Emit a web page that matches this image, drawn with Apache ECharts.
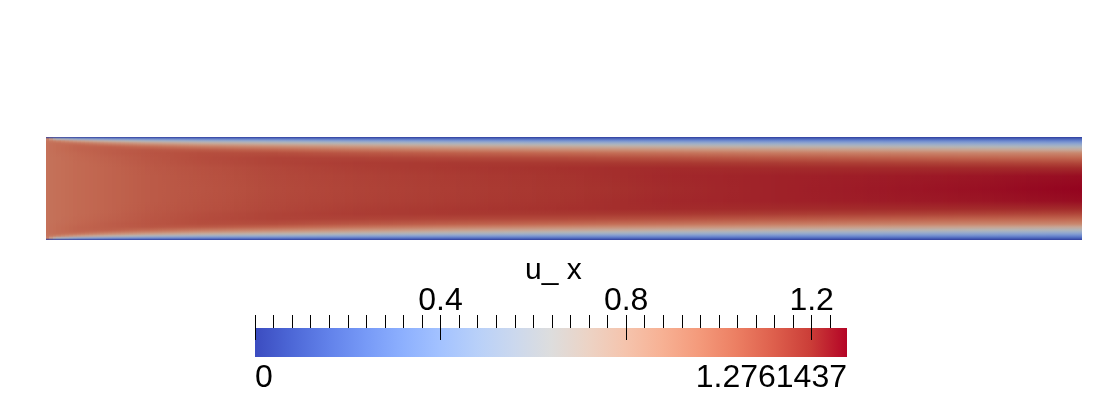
<!DOCTYPE html>
<html>
<head>
<meta charset="utf-8">
<script src="https://cdn.jsdelivr.net/npm/echarts@6/dist/echarts.min.js"></script>
<style>
  html, body { margin: 0; padding: 0; background: #fff; }
  #main { width: 1107px; height: 408px; }
</style>
</head>
<body>
<div id="main"></div>
<script>
// u_x field. stations along the channel (0 = inlet, 1 = outlet)
const xNodes = [0, 0.01, 0.03, 0.06, 0.10, 0.15, 0.22, 0.30, 0.40, 0.50, 0.60, 0.70, 0.80, 0.90, 1.00];
// distance from the wall, as a fraction of the channel height (0 = wall, 0.5 = centre line)
const wallDist = [0, 0.02, 0.04, 0.06, 0.08, 0.10, 0.13, 0.16, 0.20, 0.25, 0.30, 0.38, 0.50];
// u_x at each station, wall -> centre (flow is symmetric about the centre line)
const uHalf = [
  [0, 1.00, 1.00, 1.00, 1.00, 1.00, 1.00, 1.00, 1.00, 1.00, 1.00, 1.00, 1.00],
  [0, 0.62, 0.94, 1.01, 1.02, 1.02, 1.02, 1.015, 1.01, 1.01, 1.01, 1.01, 1.01],
  [0, 0.46, 0.82, 0.98, 1.04, 1.05, 1.05, 1.04, 1.035, 1.03, 1.03, 1.03, 1.03],
  [0, 0.37, 0.69, 0.89, 1.00, 1.06, 1.07, 1.07, 1.06, 1.055, 1.05, 1.05, 1.05],
  [0, 0.31, 0.59, 0.80, 0.94, 1.03, 1.09, 1.10, 1.095, 1.09, 1.085, 1.08, 1.08],
  [0, 0.27, 0.52, 0.72, 0.87, 0.98, 1.08, 1.12, 1.125, 1.12, 1.11, 1.105, 1.10],
  [0, 0.24, 0.47, 0.66, 0.81, 0.93, 1.05, 1.12, 1.15, 1.15, 1.14, 1.135, 1.13],
  [0, 0.21, 0.42, 0.60, 0.75, 0.87, 1.00, 1.09, 1.15, 1.17, 1.165, 1.155, 1.15],
  [0, 0.19, 0.38, 0.55, 0.69, 0.81, 0.95, 1.06, 1.14, 1.18, 1.185, 1.175, 1.17],
  [0, 0.18, 0.35, 0.51, 0.65, 0.77, 0.91, 1.03, 1.13, 1.18, 1.20, 1.195, 1.19],
  [0, 0.17, 0.33, 0.48, 0.61, 0.73, 0.88, 1.00, 1.11, 1.18, 1.21, 1.215, 1.21],
  [0, 0.16, 0.31, 0.45, 0.58, 0.70, 0.85, 0.97, 1.09, 1.17, 1.21, 1.225, 1.225],
  [0, 0.15, 0.30, 0.43, 0.55, 0.67, 0.82, 0.95, 1.07, 1.16, 1.21, 1.235, 1.24],
  [0, 0.14, 0.29, 0.41, 0.53, 0.64, 0.79, 0.93, 1.05, 1.15, 1.21, 1.245, 1.255],
  [0, 0.14, 0.27, 0.39, 0.50, 0.61, 0.76, 0.92, 1.04, 1.14, 1.21, 1.26, 1.2761437]
];

// colour bar
const uRange = [0, 1.2761437];
const barTicks = [0, 0.04, 0.08, 0.12, 0.16, 0.2, 0.24, 0.28, 0.32, 0.36, 0.4, 0.44, 0.48,
  0.52, 0.56, 0.6, 0.64, 0.68, 0.72, 0.76, 0.8, 0.84, 0.88, 0.92, 0.96, 1.0, 1.04, 1.08,
  1.12, 1.16, 1.2, 1.24];
const barMajorTicks = [0, 0.4, 0.8, 1.2];
const barTopLabels = [0.4, 0.8, 1.2];
const barEndLabels = ['0', '1.2761437'];
const barTitle = 'u_ x';

// cool to warm
const cmap = ['#3b4cc0', '#4d68d7', '#6282ea', '#779af7', '#8db0fe', '#a3c2ff', '#b8d0f9',
  '#cbd8ee', '#dddddd', '#ecd3c5', '#f5c4ad', '#f7b194', '#f49a7b', '#ec7f63', '#de604d',
  '#cb3e38', '#b40426'];
const shade = 0.82; // the rendered field is a bit darker than the bar
const fieldCmap = cmap.map(c => {
  const p = echarts.color.parse(c);
  return 'rgb(' + Math.round(p[0] * shade) + ',' + Math.round(p[1] * shade) + ',' + Math.round(p[2] * shade) + ')';
});
const font = 'Liberation Sans, Arial, sans-serif';

function fieldColor(u) {
  let t = u / uRange[1];
  t = Math.max(0, Math.min(1, t));
  return echarts.color.lerp(t, fieldCmap);
}

// full profiles: bottom wall -> top wall
const yNodes = wallDist.concat(wallDist.slice(0, -1).reverse().map(d => 1 - d));
const uFull = uHalf.map(r => r.concat(r.slice(0, -1).reverse()));

const cells = [];
for (let i = 0; i < xNodes.length - 1; i++) {
  for (let j = 0; j < yNodes.length - 1; j++) {
    cells.push([xNodes[i], xNodes[i + 1], yNodes[j], yNodes[j + 1],
      uFull[i][j], uFull[i + 1][j], uFull[i][j + 1], uFull[i + 1][j + 1]]);
  }
}

function renderCell(params, api) {
  const tl = api.coord([api.value(0), api.value(3)]);
  const br = api.coord([api.value(1), api.value(2)]);
  const uBL = api.value(4), uBR = api.value(5), uTL = api.value(6), uTR = api.value(7);
  const w = br[0] - tl[0];
  const y0 = Math.round(tl[1]), y1 = Math.round(br[1]);
  const n = Math.max(1, Math.round(w / 4));
  const children = [];
  for (let s = 0; s < n; s++) {
    const f = (s + 0.5) / n;
    const xa = Math.round(tl[0] + w * s / n), xb = Math.round(tl[0] + w * (s + 1) / n);
    if (xb <= xa || y1 <= y0) continue;
    children.push({
      type: 'rect',
      shape: { x: xa, y: y0, width: xb - xa, height: y1 - y0 },
      style: {
        fill: new echarts.graphic.LinearGradient(0, 0, 0, 1, [
          { offset: 0, color: fieldColor(uTL + (uTR - uTL) * f) },
          { offset: 1, color: fieldColor(uBL + (uBR - uBL) * f) }
        ])
      }
    });
  }
  return { type: 'group', children: children };
}

function renderBar(params, api) {
  const a = api.coord([api.value(0), 1]);
  const b = api.coord([api.value(1), 0]);
  return {
    type: 'rect',
    shape: { x: a[0], y: a[1], width: b[0] - a[0], height: b[1] - a[1] },
    style: {
      fill: new echarts.graphic.LinearGradient(0, 0, 1, 0,
        cmap.map((c, i) => ({ offset: i / (cmap.length - 1), color: c })))
    }
  };
}

const chart = echarts.init(document.getElementById('main'), null, { renderer: 'canvas' });
chart.setOption({
  backgroundColor: '#ffffff',
  animation: false,
  title: {
    text: barTitle,
    left: 525,
    top: 256,
    padding: 0,
    textStyle: { fontSize: 30, fontWeight: 'normal', color: '#000', fontFamily: font }
  },
  grid: [
    { left: 46, top: 137, width: 1036, height: 103 },
    { left: 255, top: 328, width: 592, height: 29 }
  ],
  xAxis: [
    { gridIndex: 0, type: 'value', min: 0, max: 1, show: false },
    {
      gridIndex: 1, type: 'value', min: uRange[0], max: uRange[1], position: 'top',
      axisLine: { show: false, onZero: false },
      splitLine: { show: false },
      axisTick: { show: true, customValues: barTicks, length: 13, lineStyle: { color: '#000', width: 1 } },
      axisLabel: {
        show: true, customValues: barTopLabels, margin: 11,
        fontSize: 32, color: '#000', fontFamily: font,
        formatter: v => String(v)
      }
    },
    {
      gridIndex: 1, type: 'value', min: uRange[0], max: uRange[1], position: 'top', z: 10,
      axisLine: { show: false, onZero: false },
      splitLine: { show: false },
      axisTick: { show: true, inside: true, customValues: barMajorTicks, length: 12, lineStyle: { color: '#000', width: 1 } },
      axisLabel: { show: false }
    },
    {
      gridIndex: 1, type: 'value', min: uRange[0], max: uRange[1], position: 'bottom',
      axisLine: { show: false, onZero: false },
      splitLine: { show: false },
      axisTick: { show: false },
      axisLabel: {
        show: true, customValues: uRange, margin: 5,
        fontSize: 32, color: '#000', fontFamily: font,
        alignMinLabel: 'left', alignMaxLabel: 'right',
        formatter: v => (v === uRange[0] ? barEndLabels[0] : barEndLabels[1])
      }
    }
  ],
  yAxis: [
    { gridIndex: 0, type: 'value', min: 0, max: 1, show: false },
    { gridIndex: 1, type: 'value', min: 0, max: 1, show: false }
  ],
  series: [
    {
      type: 'custom', xAxisIndex: 0, yAxisIndex: 0,
      renderItem: renderCell, data: cells, silent: true, clip: true
    },
    {
      type: 'custom', xAxisIndex: 1, yAxisIndex: 1,
      renderItem: renderBar, data: [uRange], silent: true
    }
  ]
});
</script>
</body>
</html>
